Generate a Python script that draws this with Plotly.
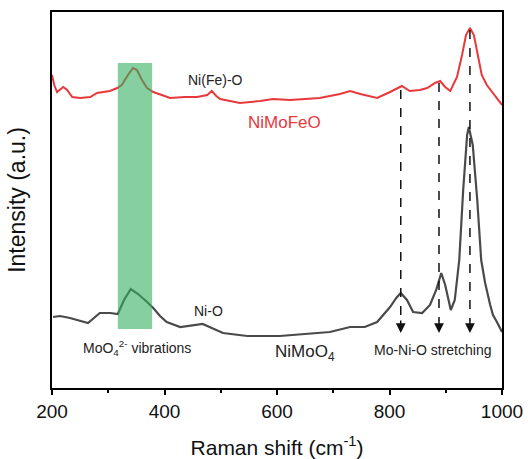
import plotly.graph_objects as go

# Raman shift (cm-1) and intensity (a.u., arbitrary offset units)
nimoo4_x = [202, 214, 232, 264, 285, 303, 317, 328, 340, 353, 369, 380, 392, 404, 428, 454, 468, 484,
            504, 547, 605, 694, 730, 756, 778, 801, 812, 820, 831, 842, 858, 872, 883, 892, 899, 909,
            916, 924, 931, 938, 941, 948, 956, 963, 970, 979, 984, 991, 1000]
nimoo4_y = [71, 72, 70, 65, 75, 75, 74, 88, 99, 94, 86, 80, 72, 66, 61, 63, 64, 60,
            55, 52, 52, 56, 61, 61, 66, 81, 90, 95, 88, 76, 75, 83, 98, 115, 103, 78,
            88, 128, 198, 253, 261, 243, 188, 128, 105, 83, 73, 66, 56]

nimofeo_x = [200, 204, 209, 220, 227, 236, 250, 268, 280, 303, 316, 324, 335, 344, 351, 360, 369, 380,
             410, 436, 458, 476, 484, 492, 499, 534, 570, 593, 623, 676, 712, 730, 748, 778, 801, 822,
             836, 854, 867, 881, 890, 899, 908, 920, 929, 936, 943, 950, 957, 964, 973, 987, 1000]
nimofeo_y = [313, 303, 296, 301, 298, 291, 290, 291, 295, 297, 300, 303, 313, 320, 318, 308, 300, 296,
             290, 291, 291, 293, 297, 292, 289, 285, 287, 289, 288, 290, 294, 297, 294, 290, 296, 302,
             297, 298, 300, 305, 307, 301, 297, 311, 333, 353, 360, 353, 333, 313, 303, 293, 283]

# Mo-Ni-O stretching markers: (position, start intensity)
arrow_x = [820, 888, 943]
arrow_start = [298, 305, 358]
arrow_tip = 55

band_x = [317, 378]
band_y = [59, 325]

x_ticks = [200, 400, 600, 800, 1000]
x_range = [200, 1000]
y_range = [0, 376]

FONT = "Arial, Liberation Sans, sans-serif"
AXIS_COLOR = "#000000"

fig = go.Figure()

fig.add_trace(go.Scatter(x=nimoo4_x, y=nimoo4_y, mode="lines",
                         line=dict(color="#4a4a4a", width=2.2), showlegend=False))
fig.add_trace(go.Scatter(x=nimofeo_x, y=nimofeo_y, mode="lines",
                         line=dict(color="#e8383c", width=2), showlegend=False))

# green band (drawn above the lines)
fig.add_shape(type="rect", xref="x", yref="y", x0=band_x[0], x1=band_x[1], y0=band_y[0], y1=band_y[1],
              fillcolor="rgba(52,175,97,0.6)", line=dict(width=0), layer="above")

for ax_, s in zip(arrow_x, arrow_start):
    fig.add_shape(type="line", xref="x", yref="y", x0=ax_, x1=ax_, y0=s, y1=arrow_tip + 12,
                  line=dict(color="#111111", width=1.5, dash="dash"))
    fig.add_annotation(x=ax_, y=arrow_tip, ax=ax_, ay=arrow_tip + 14, xref="x", yref="y",
                       axref="x", ayref="y", showarrow=True, arrowhead=2, arrowsize=1.3,
                       arrowwidth=1.5, arrowcolor="#111111", text="")

font_small = dict(family=FONT, size=14, color="#222222")
font_big = dict(family=FONT, size=17, color="#222222")

fig.add_annotation(x=490, y=308, text="Ni(Fe)-O", showarrow=False, font=font_small)
fig.add_annotation(x=614, y=266, text="NiMoFeO", showarrow=False,
                   font=dict(family=FONT, size=17, color="#e8383c"))
fig.add_annotation(x=479, y=77, text="Ni-O", showarrow=False, font=font_small)
fig.add_annotation(x=351, y=40, text="MoO<sub>4</sub><sup>2-</sup> vibrations", showarrow=False, font=font_small)
fig.add_annotation(x=650, y=35, text="NiMoO<sub>4</sub>", showarrow=False, font=font_big)
fig.add_annotation(x=877, y=38, text="Mo-Ni-O stretching", showarrow=False, font=font_small)

fig.update_layout(
    width=528, height=459,
    margin=dict(l=52, r=26, t=12, b=71, autoexpand=False),
    paper_bgcolor="white", plot_bgcolor="white",
    font=dict(family=FONT, size=19, color="#111111"),
    xaxis=dict(range=x_range, tickmode="array", tickvals=x_ticks,
               ticks="outside", ticklen=5, tickwidth=2,
               tickcolor=AXIS_COLOR, showline=True, linecolor=AXIS_COLOR, linewidth=2, mirror=True,
               showgrid=False, zeroline=False, automargin=False,
               minor=dict(dtick=100, ticks="outside", ticklen=3, tickwidth=1.5, tickcolor=AXIS_COLOR),
               title=dict(text="Raman shift (cm<sup>-1</sup>)", standoff=25,
                          font=dict(size=21)),
               tickfont=dict(size=19)),
    yaxis=dict(range=y_range, showticklabels=False, ticks="", showline=True, linecolor=AXIS_COLOR,
               linewidth=2, mirror=True, showgrid=False, zeroline=False, automargin=False,
               title=dict(text="Intensity (a.u.)", standoff=18, font=dict(size=23))),
)

fig.write_html("out.html", config={"displayModeBar": False},
               post_script="document.body.style.margin='0px';document.body.style.overflow='hidden';")
